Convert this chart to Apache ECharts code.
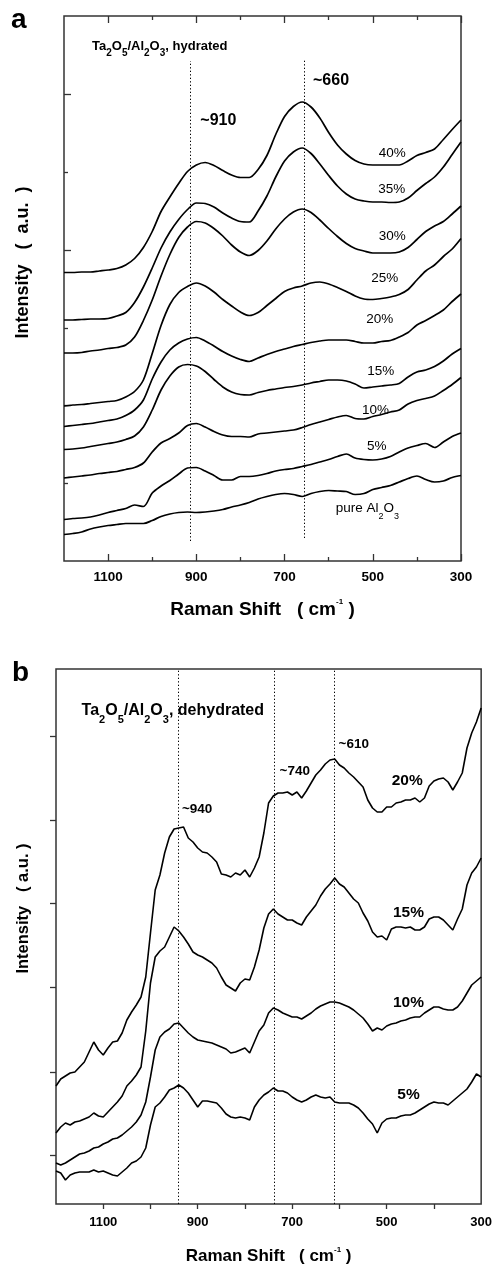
<!DOCTYPE html>
<html><head><meta charset="utf-8">
<script src="https://cdn.jsdelivr.net/npm/echarts@6/dist/echarts.min.js"></script>
<style>html,body{margin:0;padding:0;background:#fff}#c{width:495px;height:1266px}</style>
</head><body><div id="c"></div>
<script>
// ---------- DATA ----------
// Panel a: Raman shift grid (cm-1) and intensities (a.u.)
const wnA = [1200,1180,1160,1140,1120,1100,1080,1060,1040,1020,1000,980,960,940,920,900,880,860,840,820,800,780,760,740,720,700,680,660,640,620,600,580,560,540,520,500,480,460,440,420,400,380,360,340,320,300];
const a40 = [288.5,288.5,289,289,290,291,292.5,296,302.5,313.5,329.5,349.5,364,377.5,389.5,396,398.5,395.5,390.5,386,383.5,383.5,391.5,405.5,426.5,444.5,454.5,459,454,443,428.5,416,407,400.5,397,396,396,396,396,400,405.5,408.5,412,421.5,431.5,441];
const a35 = [241,241,241.5,242,242,242.5,245,248.5,258.5,274,293,313,329,341.5,351.5,358,357.5,354,348,343,339.5,339,350,365,384,400,409,413,407.5,397,385.5,375,367,362,360,359,359,358.5,359,363,370.5,377.5,384,394,406.5,419];
const a30 = [208,208,208.5,210,211,212.5,213.5,216,224,240.5,261,285,306.5,323.5,334,339.5,338,332.5,325,316,309,305.5,310.5,320,332,342,349,352,348.5,341,332.5,324.5,317.5,312.5,310,308,308,308,309,313.5,321.5,329.5,335,339.5,347,355];
const a25 = [155,156,156.5,157.5,158.5,159.5,160.5,164,169.5,181,207.5,235.5,256.5,268.5,274.5,278,275,269,261.5,255,249,245.5,248.5,255.5,262.5,269.5,273,275,278,279,277,273.5,269.5,265,262,261.5,262.5,264,266.5,271.5,281,290,296,304.5,312,322.5];
const a20 = [134.5,135.5,136.5,137.5,139,140.5,142,145.5,151,161,182,199,211,218,222,223.5,220,215,209.5,205,201.5,199.5,203,206.5,209.5,212,214.5,216.5,218.5,220,221,221,221,219.5,218,218,219.5,220.5,224,228.5,236,240.5,245.5,251,259.5,267];
const a15 = [111.5,112,113,114.5,116,117.5,119,121.5,125,134,151,171,185,194,196.5,195,189.5,181.5,174,169,166.5,166,168.5,170.5,172,173.5,174.5,176,178,179.5,181,181,180,177,173,174,175,176,177.5,184,189,191,194.5,200,207,212.5];
const a10 = [83,84,85,86,87.5,88.5,89.5,91.5,93.5,98,109,118,122.5,128,135.5,137.5,134,129.5,126,124.5,124.5,124,127,128,129,130,131,133.5,136.5,139,141.5,144,145.5,142.5,142,144.5,146.5,149,151,157,160.5,162.5,165,170.5,176.5,183.5];
const a5  = [41.5,42.5,43,44,46,48.5,50.5,52.5,56,54.5,68,75,80.5,87,93,93.5,90,85.5,81,81,84.5,84.5,85.5,87.5,90,91.5,92.5,94.5,96.5,99,101.5,104.5,107,103,101.5,101,102,104.5,109,113,115.5,117.5,113.5,119,124.5,128];
const a0  = [26.5,27.5,29,32,34,35.5,36.5,37.5,37.5,37.5,40.5,44.5,47,48.5,49,48.5,49,50,51.5,54,56,58.5,62,64.5,66.5,67.5,66.5,64.5,67.5,69.5,70.5,70,69.5,66.5,67.5,71.5,73.5,75.5,79,82.5,85,81.5,79,80,83.5,85.5];
const namesA = ['40%','35%','30%','25%','20%','15%','10%','5%','pure Al2O3'];

// Panel b
const wnB = [1200,1190,1180,1170,1160,1150,1140,1130,1120,1110,1100,1090,1080,1070,1060,1050,1040,1030,1020,1010,1000,990,980,970,960,950,940,930,920,910,900,890,880,870,860,850,840,830,820,810,800,790,780,770,760,750,740,730,720,710,700,690,680,670,660,650,640,630,620,610,600,590,580,570,560,550,540,530,520,510,500,490,480,470,460,450,440,430,420,410,400,390,380,370,360,350,340,330,320,310,300];
const b20 = [118,125,128,131,132,137,142,152,162,154,149,156,162,163,171,184,192,199,207,227,271,314,329,351,367,375,376,377,366,362,356,352,351,347,342,330,329,327,331,329,334,327,336,347,371,401,408,411,411,412,409,412,406,413,421,429,434,440,444,445,439,436,431,427,422,417,404,396,392,392,397,397,401,402,404,404,406,402,406,418,423,425,426,422,414,422,431,456,471,482,496];
const b15 = [71,77,81,79,82,83,85,87,91,88,87,92,97,102,108,118,123,129,137,173,221,247,253,257,267,277,273,267,260,252,249,247,244,241,236,227,219,216,213,221,225,224,237,254,276,290,295,290,287,284,284,281,279,287,293,299,308,315,320,326,320,317,311,305,301,291,283,272,267,268,264,275,277,277,276,277,274,274,277,285,287,287,284,279,274,285,295,319,331,337,346];
const b10 = [41,39,41,44,47,50,51,53,56,57,60,62,65,66,69,73,77,82,89,102,127,154,167,172,175,180,181,176,171,167,164,163,162,161,159,157,155,151,152,154,156,151,162,173,179,191,196,194,191,189,187,187,185,188,191,195,198,200,202,202,201,199,197,194,190,186,180,173,176,174,178,180,181,183,184,186,187,187,191,194,197,197,195,194,194,197,203,211,219,223,227];
const b5  = [33,31,24,29,31,32,32,32,34,32,33,31,29,28,32,36,41,43,47,56,79,97,101,107,114,116,119,116,111,104,97,103,103,102,101,96,90,87,86,87,86,84,97,104,109,112,116,113,113,111,107,104,102,104,107,109,107,106,107,102,101,101,101,99,96,91,85,80,71,81,85,86,86,88,89,89,91,94,97,100,102,101,101,99,103,107,111,115,122,130,127];
const namesB = ['20%','15%','10%','5%'];

// Axis ticks / labels
const xLabels = [300,500,700,900,1100];
const xMajorA = [300,500,700,900,1100];
const xMinorA = [400,600,800,1000];
const yMajorA = [156,311,467];
const yMinorA = [78,233,389];
const xTicksB = [400,500,600,700,800,900,1000,1100];
const yTicksB = [49,132,217,301,384,468];

// Reference band positions (cm-1) with vertical extents (a.u.)
const bandsA = [[913,20,500],[655,23,502]];
const bandsB = [[942,0,535],[738,0,535],[612,0,535]];

// ---------- ANNOTATIONS ----------
const FONT = '"Liberation Sans", Arial, Helvetica, sans-serif';
const annA = [
  {text:'{n|Ta}{s|2}{n|O}{s|5}{n|/Al}{s|2}{n|O}{s|3}{n|, hydrated}', at:[1136.5,514.8], align:'left', size:13, bold:true, sub:10, L:24},
  {text:'~910', at:[850,440.2], size:16, bold:true},
  {text:'~660', at:[594.7,480.7], size:16, bold:true},
  {text:'40%', at:[456,408.2], size:13.5},
  {text:'35%', at:[457,372.2], size:13.5},
  {text:'30%', at:[456,324.3], size:13.5},
  {text:'25%', at:[473,282.7], size:13.5},
  {text:'20%', at:[484,241.8], size:13.5},
  {text:'15%', at:[482,189.3], size:13.5},
  {text:'10%', at:[494,151], size:13.5},
  {text:'5%', at:[491,114.3], size:13.5},
  {text:'{n|pure Al}{s|2}{n|O}{s|3}', at:[512,52.3], size:13.5, sub:9, L:24}
];
const annB = [
  {text:'{n|Ta}{s|2}{n|O}{s|5}{n|/Al}{s|2}{n|O}{s|3}{n|, dehydrated}', at:[1145.8,493.5], align:'left', size:16, bold:true, sub:11, L:29},
  {text:'~940', at:[901.3,395], size:13.5, bold:true},
  {text:'~740', at:[694.7,432.3], size:13.5, bold:true},
  {text:'~610', at:[569.7,460], size:13.5, bold:true},
  {text:'20%', at:[456.5,423], size:15.5, bold:true},
  {text:'15%', at:[453.8,291], size:15.5, bold:true},
  {text:'10%', at:[453.8,201.5], size:15.5, bold:true},
  {text:'5%', at:[453.8,109], size:15.5, bold:true}
];

function mpData(list){
  return list.map(a => {
    const fw = a.bold ? 'bold' : 'normal';
    const lab = {
      show:true, position:'inside', align:a.align||'center', verticalAlign:'middle',
      fontFamily:FONT, fontSize:a.size, fontWeight:fw, color:'#000',
      formatter: () => a.text
    };
    if (a.sub) {
      lab.rich = {
        n:{fontFamily:FONT, fontSize:a.size, fontWeight:fw, color:'#000', lineHeight:a.L},
        s:{fontFamily:FONT, fontSize:a.sub, fontWeight:fw, color:'#000', lineHeight:a.sub, verticalAlign:'bottom'}
      };
    }
    return {coord:a.at, symbol:'circle', symbolSize:0, label:lab};
  });
}
function mlData(list){
  return list.map(b => [{coord:[b[0],b[1]]},{coord:[b[0],b[2]]}]);
}
const pairs = (xs, ys) => xs.map((x,i) => [x, ys[i]]);

const FRAME = '#333';
const tickStyle = {color:FRAME, width:1.3};
function xAx(grid, pos, ticks, len, inside, extra){
  return Object.assign({
    type:'value', gridIndex:grid, position:pos, min:300, max:1200, inverse:true,
    axisLine:{show:false, onZero:false}, splitLine:{show:false},
    axisTick:{show:true, inside:inside, length:len, customValues:ticks, lineStyle:tickStyle},
    axisLabel:{show:false}
  }, extra||{});
}
function yAx(grid, max, ticks, len, inside){
  return {
    type:'value', gridIndex:grid, position:'left', min:0, max:max,
    axisLine:{show:false, onZero:false}, splitLine:{show:false},
    axisTick:{show:true, inside:inside, length:len, customValues:ticks, lineStyle:tickStyle},
    axisLabel:{show:false}
  };
}
function xName(size, L, gap){
  return {
    name:'{n|Raman Shift   ( cm}{p|-1}{n| )}', nameLocation:'middle', nameGap:gap,
    nameTextStyle:{rich:{
      n:{fontFamily:FONT, fontSize:size, fontWeight:'bold', color:'#000', lineHeight:L},
      p:{fontFamily:FONT, fontSize:8, fontWeight:'bold', color:'#000', lineHeight:8, verticalAlign:'top'}
    }}
  };
}
function xLab(size, margin){
  return {show:true, customValues:xLabels, margin:margin, fontFamily:FONT, fontSize:size, fontWeight:'bold', color:'#000',
    formatter: v => String(Math.round(v))};
}

const seriesA = [a40,a35,a30,a25,a20,a15,a10,a5,a0].map((d,i) => ({
  name:namesA[i], type:'line', xAxisIndex:0, yAxisIndex:0, data:pairs(wnA,d),
  showSymbol:false, smooth:0.3, silent:true,
  lineStyle:{color:'#000', width:1.7}
}));
const seriesB = [b20,b15,b10,b5].map((d,i) => ({
  name:namesB[i], type:'line', xAxisIndex:4, yAxisIndex:2, data:pairs(wnB,d),
  showSymbol:false, silent:true,
  lineStyle:{color:'#000', width:1.6}
}));
const mlStyle = {color:'#000', width:1, type:[1.3,2.2]};
seriesA[0].markLine = {silent:true, symbol:['none','none'], label:{show:false}, lineStyle:mlStyle, data:mlData(bandsA)};
seriesA[0].markPoint = {silent:true, data:mpData(annA)};
seriesB[0].markLine = {silent:true, symbol:['none','none'], label:{show:false}, lineStyle:mlStyle, data:mlData(bandsB)};
seriesB[0].markPoint = {silent:true, data:mpData(annB)};

const option = {
  animation:false,
  backgroundColor:'#fff',
  textStyle:{fontFamily:FONT},
  grid:[
    {left:64, top:16, width:397, height:545, show:true, borderColor:FRAME, borderWidth:1.5, backgroundColor:'transparent'},
    {left:56, top:669, width:427, height:535, show:true, borderColor:FRAME, borderWidth:1.5, backgroundColor:'transparent'}
  ],
  xAxis:[
    xAx(0,'bottom',xMajorA,7,true, Object.assign({axisLabel:xLab(13.5,9)}, xName(19,24,37))),
    xAx(0,'bottom',xMinorA,4,true),
    xAx(0,'top',xMajorA,7,true),
    xAx(0,'top',xMinorA,4,true),
    xAx(1,'bottom',xTicksB,5,false, Object.assign({axisLabel:xLab(13,12)}, xName(17,21,42)))
  ],
  yAxis:[
    yAx(0,545,yMajorA,7,true),
    yAx(0,545,yMinorA,4,true),
    yAx(1,535,yTicksB,6,false)
  ],
  graphic:[
    {type:'text', x:11, y:20, silent:true, style:{text:'a', font:'bold 28px '+FONT, fill:'#000', align:'left', verticalAlign:'middle', textAlign:'left', textVerticalAlign:'middle'}},
    {type:'text', x:12, y:673, silent:true, style:{text:'b', font:'bold 28px '+FONT, fill:'#000', align:'left', verticalAlign:'middle', textAlign:'left', textVerticalAlign:'middle'}},
    {type:'text', x:23.5, y:262.5, rotation:Math.PI/2, silent:true, style:{text:'Intensity   (  a.u.  )', font:'bold 18px '+FONT, fill:'#000', align:'center', verticalAlign:'middle', textAlign:'center', textVerticalAlign:'middle'}},
    {type:'text', x:23, y:908.5, rotation:Math.PI/2, silent:true, style:{text:'Intensity   ( a.u. )', font:'bold 16.5px '+FONT, fill:'#000', align:'center', verticalAlign:'middle', textAlign:'center', textVerticalAlign:'middle'}}
  ],
  series: seriesA.concat(seriesB)
};
const chart = echarts.init(document.getElementById('c'), null, {renderer:'canvas'});
chart.setOption(option);
</script>
</body></html>
